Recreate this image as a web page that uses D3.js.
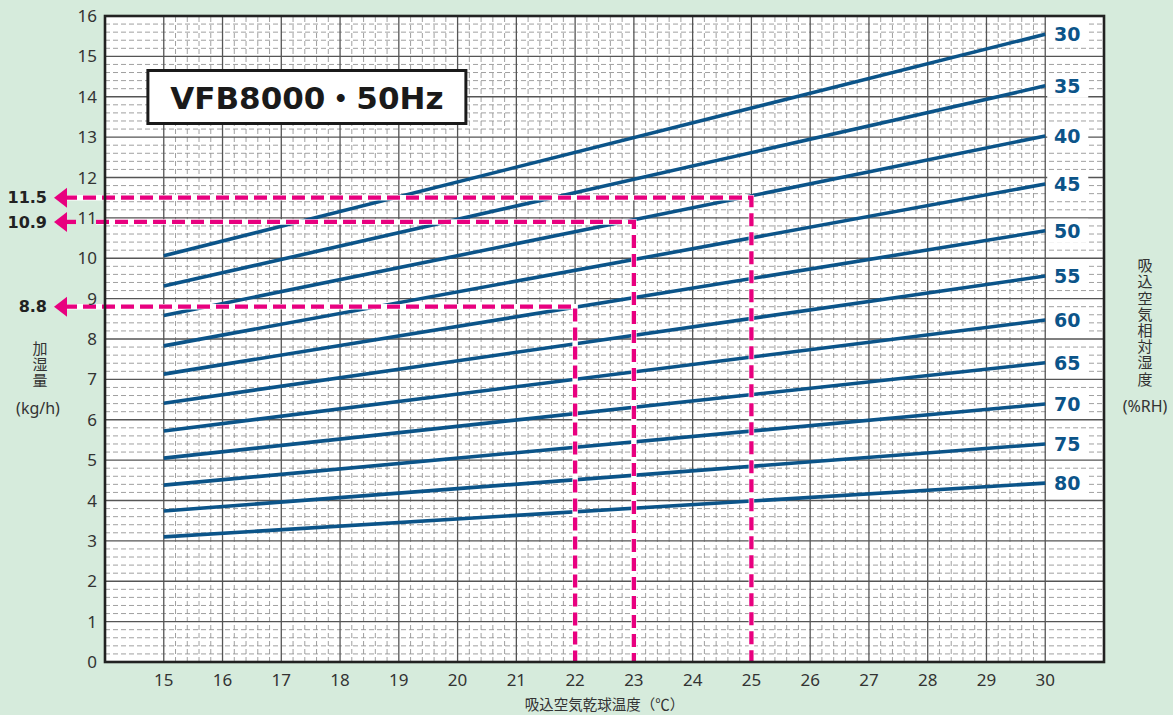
<!DOCTYPE html>
<html lang="ja">
<head>
<meta charset="UTF-8">
<title>VFB8000 50Hz 加湿量</title>
<script src="https://d3js.org/d3.v7.min.js"></script>
<style>
    html, body { margin: 0; padding: 0; background: #d6ebdc; }
    svg { display: block; }
</style>
</head>
<body>
<svg id="chart"></svg>
<script>
    // relative humidity curves: humidifying amount at 15 and 30 degC
    const rhLevels = [30, 35, 40, 45, 50, 55, 60, 65, 70, 75, 80];
    const lineTemps = [15, 30];
    const amountAt15 = [10.06, 9.31, 8.58, 7.83, 7.13, 6.41, 5.72, 5.05, 4.38, 3.74, 3.10];
    const amountAt30 = [15.55, 14.27, 13.03, 11.84, 10.68, 9.56, 8.47, 7.41, 6.39, 5.40, 4.43];

    const xTicks = d3.range(15, 31);
    const yTicks = d3.range(0, 17);

    // reading examples (pink)
    const markTemps = [25, 23, 22];
    const markAmounts = [11.5, 10.9, 8.8];
    const markLabels = ["11.5", "10.9", "8.8"];

    const titleText = "VFB8000・50Hz";
    const xTitle = "吸込空気乾球温度（℃）";
    const yTitle = "加湿量";
    const yUnit = "(kg/h)";
    const rTitle = "吸込空気相対湿度";
    const rUnit = "(%RH)";

    const width = 1173, height = 715;
    const margin = {top: 16, right: 69, bottom: 53, left: 105};
    const blue = "#0b5489", pink = "#e8007f";
    const sans = "'Noto Sans', 'Noto Sans CJK JP', sans-serif";
    const wide = "'DejaVu Sans', 'Noto Sans CJK JP', sans-serif";
    const cjk = "'Noto Sans CJK JP', sans-serif";

    const svg = d3.select("#chart").attr("width", width).attr("height", height);

    const x = d3.scaleLinear().domain([14, 31]).range([margin.left, width - margin.right]);
    const y = d3.scaleLinear().domain([0, 16]).range([height - margin.bottom, margin.top]);

    // plot background
    svg.append("rect")
        .attr("x", x(14)).attr("y", y(16))
        .attr("width", x(31) - x(14)).attr("height", y(0) - y(16))
        .attr("fill", "#fff");

    // minor grid (0.2 steps)
    const minorY = d3.range(1, 80).filter(i => i % 5 !== 0).map(i => i / 5);
    const minorX = d3.range(76, 150).filter(i => i % 5 !== 0).map(i => i / 5);
    const grid = svg.append("g");
    grid.selectAll(".minY").data(minorY).enter().append("line")
        .attr("x1", x(14)).attr("x2", x(31))
        .attr("y1", d => y(d)).attr("y2", d => y(d))
        .attr("stroke", "#959595").attr("stroke-width", 0.9)
        .attr("stroke-dasharray", "5,3");
    grid.selectAll(".minX").data(minorX).enter().append("line")
        .attr("x1", d => x(d)).attr("x2", d => x(d))
        .attr("y1", y(0)).attr("y2", y(16))
        .attr("stroke", "#959595").attr("stroke-width", 0.9)
        .attr("stroke-dasharray", "5,3");

    // major grid
    grid.selectAll(".majY").data(yTicks.slice(1, -1)).enter().append("line")
        .attr("x1", x(14)).attr("x2", x(31))
        .attr("y1", d => y(d)).attr("y2", d => y(d))
        .attr("stroke", "#555").attr("stroke-width", 1.3);
    grid.selectAll(".majX").data(xTicks).enter().append("line")
        .attr("x1", d => x(d)).attr("x2", d => x(d))
        .attr("y1", y(0)).attr("y2", y(16))
        .attr("stroke", "#555").attr("stroke-width", 1.3);

    // RH curves
    const line = d3.line().x(d => x(d[0])).y(d => y(d[1]));
    const curves = rhLevels.map((rh, i) => [[lineTemps[0], amountAt15[i]], [lineTemps[1], amountAt30[i]]]);
    svg.append("g").selectAll("path").data(curves).enter().append("path")
        .attr("d", line)
        .attr("fill", "none")
        .attr("stroke", blue)
        .attr("stroke-width", 3.6);

    // RH labels
    const rhLab = svg.append("g").selectAll("g").data(rhLevels).enter().append("g")
        .attr("transform", (d, i) => `translate(${x(30)},${y(amountAt30[i])})`);
    rhLab.append("rect")
        .attr("x", 2).attr("y", -12).attr("width", 41).attr("height", 24)
        .attr("fill", "#fff");
    rhLab.append("text")
        .attr("x", 22).attr("y", 0).attr("dy", "0.36em")
        .attr("text-anchor", "middle")
        .style("font-family", wide)
        .attr("font-size", 19).attr("font-weight", "bold")
        .attr("fill", blue)
        .text(d => d);

    // pink reading lines
    const marks = markTemps.map((t, i) => ({t: t, v: markAmounts[i], label: markLabels[i], i: i}));
    const mk = svg.append("g");
    marks.forEach(m => {
        const yy = y(m.v);
        const hx0 = m.i === 1 ? 96 : 64;
        const path = `M${hx0},${yy}H${x(m.t)}V${y(0)}`;
        mk.append("path").attr("d", path)
            .attr("fill", "none").attr("stroke", "#fff").attr("stroke-width", 5.5);
        mk.append("path").attr("d", path)
            .attr("fill", "none").attr("stroke", pink).attr("stroke-width", 4.3)
            .attr("stroke-dasharray", "13,6");
        if (m.i === 1) {
            mk.append("line").attr("x1", 62).attr("x2", 76).attr("y1", yy).attr("y2", yy)
                .attr("stroke", pink).attr("stroke-width", 4.3);
        }
        mk.append("path")
            .attr("d", `M54,${yy}L67,${yy - 10}L67,${yy + 10}Z`)
            .attr("fill", pink);
        mk.append("text")
            .attr("x", 47).attr("y", yy).attr("dy", "0.36em")
            .attr("text-anchor", "end")
            .style("font-family", wide)
            .attr("font-size", 16).attr("font-weight", "bold")
            .attr("fill", "#222")
            .text(m.label);
    });

    // plot border
    svg.append("rect")
        .attr("x", x(14)).attr("y", y(16))
        .attr("width", x(31) - x(14)).attr("height", y(0) - y(16))
        .attr("fill", "none").attr("stroke", "#222").attr("stroke-width", 2.6);

    // title box
    const tb = svg.append("g").attr("transform", `translate(${x(14.73)},${y(14.65)})`);
    tb.append("rect")
        .attr("x", 0).attr("y", 0).attr("width", 318).attr("height", 53)
        .attr("fill", "#fff").attr("stroke", "#1a1a1a").attr("stroke-width", 3);
    tb.append("text")
        .attr("x", 159).attr("y", 27).attr("dy", "0.36em")
        .attr("text-anchor", "middle")
        .style("font-family", wide)
        .attr("font-size", 31).attr("font-weight", "bold")
        .attr("fill", "#1a1a1a")
        .text(titleText);

    // tick labels
    svg.append("g").selectAll("text").data(yTicks).enter().append("text")
        .attr("x", x(14) - 8).attr("y", d => y(d)).attr("dy", "0.36em")
        .attr("text-anchor", "end")
        .style("font-family", sans)
        .attr("font-size", 17).attr("fill", "#333")
        .text(d => d);
    svg.append("g").selectAll("text").data(xTicks).enter().append("text")
        .attr("x", d => x(d)).attr("y", y(0) + 24)
        .attr("text-anchor", "middle")
        .style("font-family", sans)
        .attr("font-size", 17).attr("fill", "#333")
        .text(d => d);

    // axis titles
    svg.append("text")
        .attr("x", x(22.5)).attr("y", height - 5)
        .attr("text-anchor", "middle")
        .style("font-family", cjk)
        .attr("font-size", 14.5).attr("fill", "#333")
        .text(xTitle);

    function verticalText(str, cx, y0, size, spacing) {
        svg.append("text")
            .attr("x", cx).attr("y", y0)
            .style("writing-mode", "vertical-rl")
            .style("font-family", cjk)
            .style("letter-spacing", spacing + "px")
            .attr("font-size", size).attr("fill", "#333")
            .text(str);
    }
    verticalText(yTitle, 40, 341, 15, 1);
    svg.append("text")
        .attr("x", 38).attr("y", 408).attr("dy", "0.36em")
        .attr("text-anchor", "middle")
        .style("font-family", sans)
        .attr("font-size", 16).attr("fill", "#333")
        .text(yUnit);
    verticalText(rTitle, 1145, 258, 15, 1.2);
    svg.append("text")
        .attr("x", 1145).attr("y", 406).attr("dy", "0.36em")
        .attr("text-anchor", "middle")
        .style("font-family", sans)
        .attr("font-size", 16).attr("fill", "#333")
        .text(rUnit);
</script>
</body>
</html>
